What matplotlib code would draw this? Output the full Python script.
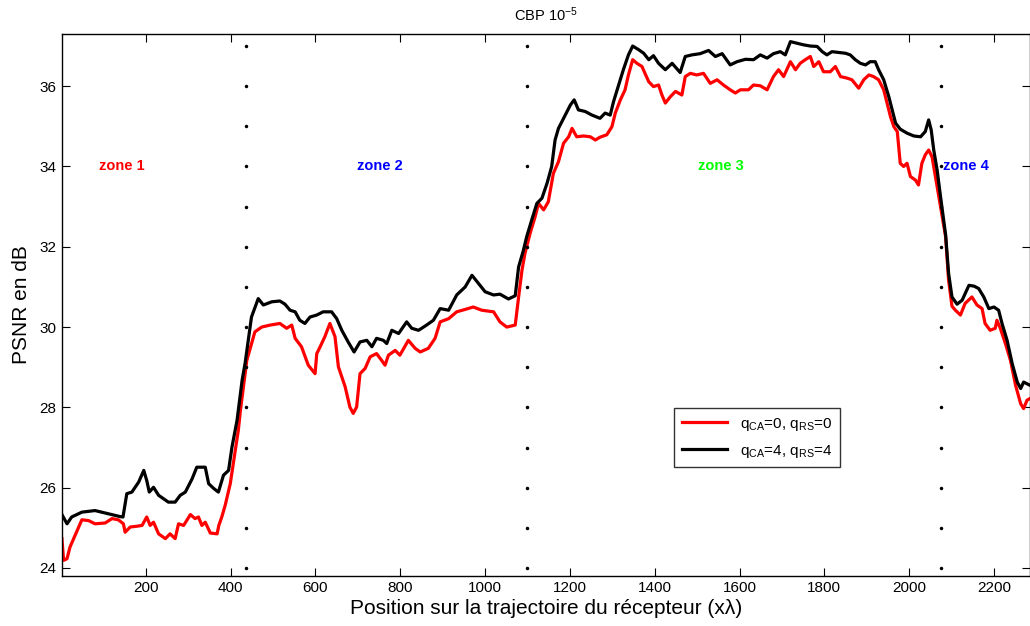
import numpy as np
import matplotlib
matplotlib.use("Agg")
import matplotlib.pyplot as plt

plt.rcParams['font.family'] = ['Liberation Sans', 'DejaVu Sans']
plt.rcParams['mathtext.fontset'] = 'custom'
plt.rcParams['mathtext.rm'] = 'Liberation Sans'
plt.rcParams['mathtext.it'] = 'Liberation Sans:italic'

# PSNR curve, q_CA=0, q_RS=0 (red)
x_q0 = [2, 6, 14, 21, 33, 49, 65, 80, 104, 120, 135, 147, 151, 163, 179, 191, 202, 210, 218, 230,
        246, 257, 269, 277, 289, 305, 316, 324, 332, 340, 352, 368, 372, 379, 387, 399, 411, 418, 423, 438,
        457, 473, 493, 516, 532, 544, 552, 567, 583, 599, 603, 611, 622, 634, 646, 654, 670, 681, 689, 697,
        705, 717, 729, 744, 756, 764, 772, 788, 799, 819, 835, 847, 866, 882, 894, 914, 933, 953, 972, 992,
        1020, 1035, 1051, 1071, 1079, 1087, 1094, 1106, 1118, 1126, 1138, 1149, 1161, 1173, 1185, 1197, 1205, 1216, 1232, 1248,
        1260, 1271, 1287, 1299, 1307, 1319, 1330, 1338, 1348, 1358, 1370, 1377, 1386, 1397, 1409, 1417, 1425, 1437, 1449, 1464,
        1472, 1484, 1499, 1515, 1531, 1547, 1562, 1578, 1590, 1602, 1621, 1633, 1649, 1665, 1680, 1692, 1704, 1720, 1732, 1743,
        1755, 1767, 1775, 1787, 1798, 1814, 1826, 1838, 1854, 1865, 1881, 1893, 1905, 1916, 1928, 1940, 1948, 1956, 1964, 1972,
        1979, 1987, 1995, 2003, 2015, 2022, 2030, 2038, 2046, 2054, 2062, 2070, 2078, 2086, 2093, 2101, 2109, 2121, 2132, 2148,
        2160, 2172, 2179, 2191, 2203, 2207, 2215, 2227, 2239, 2251, 2263, 2270, 2278, 2285]
y_q0 = [24.73, 24.19, 24.23, 24.52, 24.81, 25.20, 25.18, 25.10, 25.12, 25.23, 25.20, 25.10, 24.89, 25.02, 25.04, 25.06, 25.27, 25.06, 25.14, 24.85,
        24.73, 24.85, 24.73, 25.10, 25.06, 25.33, 25.23, 25.27, 25.06, 25.14, 24.87, 24.85, 25.06, 25.27, 25.56, 26.10, 26.93, 27.43, 27.93, 29.17,
        29.88, 30.00, 30.05, 30.09, 29.97, 30.05, 29.72, 29.51, 29.05, 28.84, 29.34, 29.51, 29.76, 30.09, 29.76, 29.01, 28.51, 28.01, 27.85, 28.01,
        28.84, 28.97, 29.26, 29.34, 29.17, 29.05, 29.30, 29.42, 29.30, 29.67, 29.47, 29.38, 29.47, 29.72, 30.13, 30.21, 30.38, 30.44, 30.50, 30.42,
        30.38, 30.13, 30.00, 30.05, 30.75, 31.42, 31.84, 32.33, 32.75, 33.08, 32.92, 33.12, 33.83, 34.12, 34.58, 34.74, 34.95, 34.74, 34.76, 34.74,
        34.66, 34.73, 34.79, 34.99, 35.33, 35.66, 35.91, 36.28, 36.66, 36.57, 36.49, 36.32, 36.11, 35.99, 36.03, 35.78, 35.58, 35.74, 35.87, 35.78,
        36.24, 36.32, 36.28, 36.32, 36.07, 36.16, 36.03, 35.91, 35.83, 35.91, 35.91, 36.03, 36.01, 35.91, 36.24, 36.41, 36.24, 36.61, 36.41, 36.57,
        36.66, 36.74, 36.49, 36.61, 36.36, 36.36, 36.49, 36.24, 36.20, 36.16, 35.95, 36.16, 36.28, 36.24, 36.16, 35.91, 35.58, 35.24, 34.99, 34.87,
        34.08, 34.00, 34.08, 33.75, 33.66, 33.54, 34.08, 34.29, 34.41, 34.24, 33.75, 33.25, 32.75, 32.25, 31.17, 30.52, 30.42, 30.30, 30.59, 30.75,
        30.55, 30.46, 30.09, 29.92, 29.97, 30.17, 29.97, 29.59, 29.17, 28.55, 28.09, 27.97, 28.18, 28.22]

# PSNR curve, q_CA=4, q_RS=4 (black)
x_q4 = [2, 14, 25, 49, 80, 104, 139, 146, 155, 167, 183, 195, 202, 208, 218, 230, 253, 269, 281, 293,
        309, 320, 340, 348, 360, 371, 383, 395, 403, 415, 427, 434, 449, 465, 477, 497, 516, 528, 540, 552,
        563, 575, 587, 603, 618, 638, 650, 662, 677, 691, 705, 721, 733, 744, 760, 768, 780, 796, 815, 827,
        843, 862, 878, 894, 914, 933, 953, 969, 984, 1000, 1020, 1035, 1055, 1071, 1079, 1090, 1098, 1110, 1122, 1134,
        1146, 1157, 1165, 1173, 1189, 1201, 1210, 1220, 1236, 1252, 1271, 1283, 1295, 1303, 1315, 1326, 1338, 1348, 1362, 1374,
        1386, 1397, 1409, 1425, 1441, 1460, 1472, 1488, 1507, 1527, 1543, 1559, 1578, 1594, 1614, 1633, 1649, 1665, 1680, 1696,
        1708, 1720, 1736, 1751, 1767, 1783, 1795, 1806, 1818, 1834, 1850, 1861, 1873, 1885, 1897, 1908, 1920, 1928, 1940, 1952,
        1960, 1968, 1979, 1995, 2011, 2027, 2038, 2046, 2052, 2058, 2066, 2074, 2086, 2093, 2101, 2113, 2125, 2141, 2153, 2164,
        2176, 2188, 2200, 2211, 2219, 2231, 2243, 2255, 2263, 2270, 2285]
y_q4 = [25.33, 25.10, 25.27, 25.39, 25.43, 25.37, 25.28, 25.27, 25.85, 25.89, 26.14, 26.43, 26.18, 25.89, 26.01, 25.81, 25.64, 25.64, 25.81, 25.89,
        26.22, 26.51, 26.51, 26.10, 25.98, 25.89, 26.31, 26.43, 27.01, 27.68, 28.68, 29.10, 30.25, 30.71, 30.55, 30.63, 30.65, 30.57, 30.42, 30.38,
        30.17, 30.09, 30.25, 30.30, 30.38, 30.38, 30.21, 29.92, 29.63, 29.38, 29.63, 29.67, 29.51, 29.72, 29.67, 29.59, 29.92, 29.84, 30.13, 29.97,
        29.92, 30.05, 30.17, 30.46, 30.42, 30.80, 31.00, 31.29, 31.09, 30.88, 30.80, 30.82, 30.70, 30.78, 31.50, 31.90, 32.25, 32.67, 33.08, 33.21,
        33.58, 34.00, 34.66, 34.95, 35.28, 35.53, 35.66, 35.41, 35.37, 35.28, 35.20, 35.33, 35.28, 35.62, 36.03, 36.41, 36.78, 37.00, 36.91, 36.82,
        36.66, 36.76, 36.57, 36.41, 36.57, 36.34, 36.74, 36.78, 36.81, 36.89, 36.74, 36.81, 36.53, 36.61, 36.67, 36.66, 36.78, 36.70, 36.81, 36.86,
        36.78, 37.11, 37.07, 37.03, 37.00, 36.99, 36.86, 36.78, 36.86, 36.84, 36.82, 36.78, 36.66, 36.57, 36.53, 36.61, 36.61, 36.41, 36.16, 35.74,
        35.41, 35.08, 34.93, 34.83, 34.76, 34.74, 34.87, 35.16, 34.91, 34.41, 33.91, 33.25, 32.30, 31.34, 30.75, 30.57, 30.67, 31.04, 31.02, 30.96,
        30.75, 30.46, 30.50, 30.42, 30.09, 29.67, 29.09, 28.63, 28.47, 28.63, 28.55]

# zone boundaries (dotted) and zone labels
zone_bounds = [436, 1099, 2076]
dot_levels = np.arange(24, 38)
zone_names = ['zone 1', 'zone 2', 'zone 3', 'zone 4']
zone_x = [89, 699, 1501, 2081]
zone_colors = ['#ff0000', '#0000ff', '#00ff00', '#0000ff']

legend_labels = [r'q$_{\mathrm{CA}}$=0, q$_{\mathrm{RS}}$=0',
                 r'q$_{\mathrm{CA}}$=4, q$_{\mathrm{RS}}$=4']

fig = plt.figure(figsize=(10.30, 6.26), dpi=100)
ax = fig.add_axes([61.5 / 1030, 1 - 576 / 626, 1 - 61.5 / 1030, (576 - 34) / 626])

ax.plot(x_q0, y_q0, color='#ff0000', lw=2.3, label=legend_labels[0])
ax.plot(x_q4, y_q4, color='black', lw=2.3, label=legend_labels[1])

for xb in zone_bounds:
    ax.plot(np.full(len(dot_levels), xb), dot_levels, 'k.', ms=3)

for name, xz, c in zip(zone_names, zone_x, zone_colors):
    ax.text(xz, 34, name, color=c, fontsize=10.5, fontweight='bold', ha='left', va='center')

ax.set_xlim(1, 2285)
ax.set_ylim(23.8, 37.3)
ax.set_xticks(np.arange(200, 2201, 200))
ax.set_yticks(np.arange(24, 37, 2))
ax.tick_params(direction='in', length=6, width=0.8, top=True, right=True, labelsize=11)
for s in ax.spines.values():
    s.set_linewidth(1.0)

ax.set_title(r'CBP 10$^{-5}$', fontsize=10.5, pad=9)
ax.set_xlabel(u'Position sur la trajectoire du récepteur (x\u03bb)', fontsize=15, labelpad=3)
ax.set_ylabel('PSNR en dB', fontsize=15, labelpad=6)

leg = ax.legend(loc='upper left', bbox_to_anchor=((674 - 61.5) / 968.5, (576 - 408) / 542),
                fontsize=11, frameon=True, fancybox=False, edgecolor='black',
                handlelength=3.0, borderaxespad=0, borderpad=0.5, labelspacing=0.65)
leg.get_frame().set_linewidth(1.0)

fig.savefig('out.png', dpi=100)
